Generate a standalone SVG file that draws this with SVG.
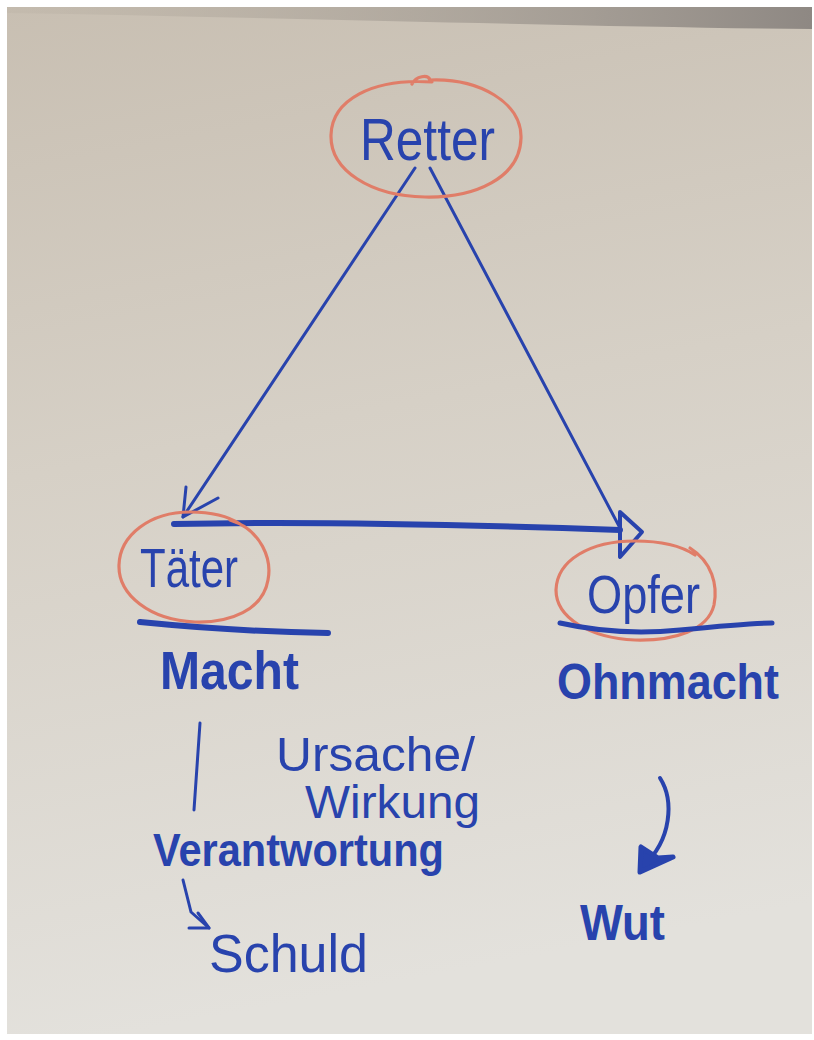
<svg xmlns="http://www.w3.org/2000/svg" width="814" height="1040" viewBox="0 0 814 1040">
<defs>
<linearGradient id="paper" x1="0" y1="0" x2="0.15" y2="1">
<stop offset="0" stop-color="#c8bfb2"/>
<stop offset="0.45" stop-color="#d6d0c6"/>
<stop offset="1" stop-color="#e3e1dc"/>
</linearGradient>
<linearGradient id="shade" x1="0" y1="0" x2="1" y2="0">
<stop offset="0" stop-color="#b9b0a3" stop-opacity="0.3"/>
<stop offset="1" stop-color="#8e8883"/>
</linearGradient>
<style>
.ring{fill:none;stroke:#e07d68;stroke-width:3.2;stroke-linecap:round;stroke-linejoin:round}
.pen{fill:none;stroke:#2843ad;stroke-linecap:round;stroke-linejoin:round}
.solid{fill:#2843ad}
.hand{fill:#2843ad;font-family:"Liberation Sans","DejaVu Sans",sans-serif}
.thick{font-weight:bold}
</style>
</defs>
<rect x="0" y="0" width="814" height="1040" fill="#ffffff"/>
<rect x="7" y="7" width="805" height="1027" fill="url(#paper)"/>
<path d="M7,7 L812,7 L812,29 C600,27 300,18 7,13 Z" fill="url(#shade)"/>

<g id="connectors">
<path class="pen" stroke-width="3" d="M415,168 L183,517"/>
<path class="pen" stroke-width="3" d="M186,487 L183,517 L218,498"/>
<path class="pen" stroke-width="3" d="M430,168 L620,528"/>
<path class="pen" stroke-width="6" d="M174,524 C300,521 450,524 620,530"/>
<path class="pen" stroke-width="4" d="M620,512 L642,532 L620,557 Z"/>
<path class="pen" stroke-width="3" d="M200,723 L194,810"/>
<path class="pen" stroke-width="3" d="M183,880 L191,912 L209,928"/>
<path class="pen" stroke-width="3" d="M189,928 L209,928 L198,913"/>
<path class="pen" stroke-width="4" d="M660,778 C674,800 672,840 643,866"/>
<path class="pen solid" stroke-width="5" d="M641,847 L640,872 L673,857 L658,858 Z"/>
</g>

<g id="node-retter">
<path class="ring" d="M412,84 C416,76 428,74 430,80 C478,78 522,102 521,138 C520,178 475,198 425,197 C370,196 330,170 331,135 C332,100 372,78 432,82"/>
<text class="hand" x="360" y="160" font-size="60" textLength="135" lengthAdjust="spacingAndGlyphs">Retter</text>
</g>

<g id="node-taeter">
<path class="ring" d="M230,520 C262,530 272,560 268,580 C263,610 230,623 195,622 C150,620 118,595 119,565 C120,535 150,512 190,512 C210,512 228,516 240,524"/>
<text class="hand" x="140" y="587" font-size="56" textLength="98" lengthAdjust="spacingAndGlyphs">Täter</text>
</g>

<g id="node-opfer">
<path class="ring" d="M690,548 C712,562 718,585 714,605 C708,630 675,641 635,640 C590,638 556,618 556,590 C557,560 590,541 635,541 C660,541 680,545 695,555"/>
<text class="hand" x="587" y="613" font-size="54" textLength="113" lengthAdjust="spacingAndGlyphs">Opfer</text>
</g>

<g id="label-macht">
<path class="pen" stroke-width="6" d="M140,622 C200,628 260,632 328,633"/>
<text class="hand thick" x="160" y="689" font-size="54" textLength="139" lengthAdjust="spacingAndGlyphs">Macht</text>
</g>

<g id="label-ohnmacht">
<path class="pen" stroke-width="5" d="M560,623 C600,632 640,634 680,630 C720,626 750,623 772,623"/>
<text class="hand thick" x="557" y="699" font-size="50" textLength="222" lengthAdjust="spacingAndGlyphs">Ohnmacht</text>
</g>

<g id="label-ursache">
<text class="hand" x="276" y="771" font-size="48" textLength="199" lengthAdjust="spacingAndGlyphs">Ursache/</text>
<text class="hand" x="305" y="818" font-size="46" textLength="175" lengthAdjust="spacingAndGlyphs">Wirkung</text>
</g>

<g id="label-verantwortung">
<text class="hand thick" x="153" y="866" font-size="46" textLength="291" lengthAdjust="spacingAndGlyphs">Verantwortung</text>
</g>

<g id="label-schuld">
<text class="hand" x="209" y="972" font-size="54" textLength="159" lengthAdjust="spacingAndGlyphs">Schuld</text>
</g>

<g id="label-wut">
<text class="hand thick" x="580" y="940" font-size="50" textLength="85" lengthAdjust="spacingAndGlyphs">Wut</text>
</g>
</svg>
